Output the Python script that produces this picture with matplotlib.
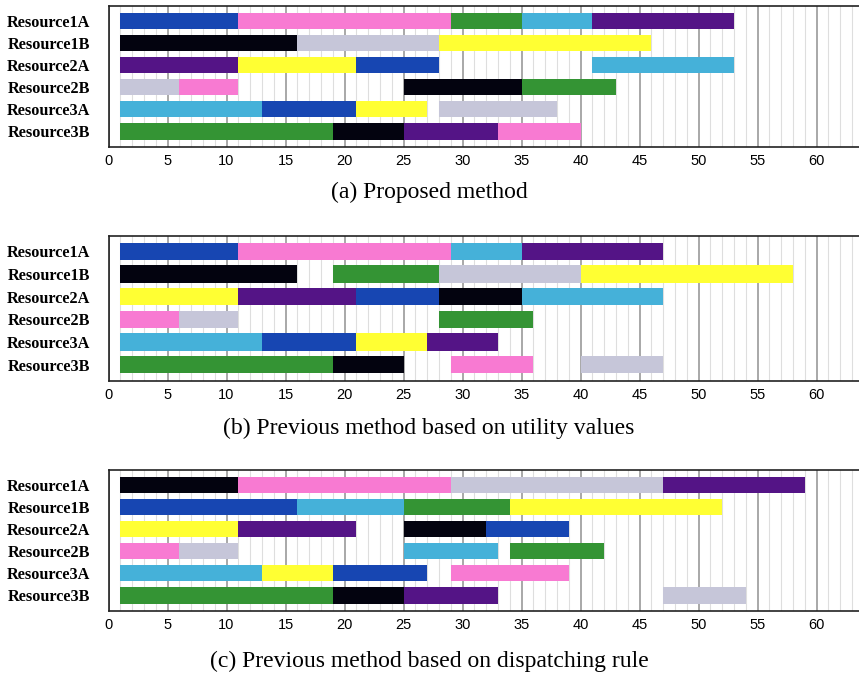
import matplotlib
matplotlib.use("Agg")
import matplotlib.pyplot as plt
from matplotlib.ticker import MultipleLocator

# Resources (rows, top to bottom)
resources = ["Resource1A", "Resource1B", "Resource2A", "Resource2B", "Resource3A", "Resource3B"]

# Job colours
job_colors = {
    "blue": "#1746b2",
    "pink": "#f87ad2",
    "green": "#349434",
    "cyan": "#45b1d9",
    "purple": "#541486",
    "black": "#03030f",
    "gray": "#c6c6d9",
    "yellow": "#ffff33",
}

# Schedules: per resource, list of (start, finish, job)
sched_proposed = [
    [(1, 11, "blue"), (11, 29, "pink"), (29, 35, "green"), (35, 41, "cyan"), (41, 53, "purple")],
    [(1, 16, "black"), (16, 28, "gray"), (28, 46, "yellow")],
    [(1, 11, "purple"), (11, 21, "yellow"), (21, 28, "blue"), (41, 53, "cyan")],
    [(1, 6, "gray"), (6, 11, "pink"), (25, 35, "black"), (35, 43, "green")],
    [(1, 13, "cyan"), (13, 21, "blue"), (21, 27, "yellow"), (28, 38, "gray")],
    [(1, 19, "green"), (19, 25, "black"), (25, 33, "purple"), (33, 40, "pink")],
]

sched_utility = [
    [(1, 11, "blue"), (11, 29, "pink"), (29, 35, "cyan"), (35, 47, "purple")],
    [(1, 16, "black"), (19, 28, "green"), (28, 40, "gray"), (40, 58, "yellow")],
    [(1, 11, "yellow"), (11, 21, "purple"), (21, 28, "blue"), (28, 35, "black"), (35, 47, "cyan")],
    [(1, 6, "pink"), (6, 11, "gray"), (28, 36, "green")],
    [(1, 13, "cyan"), (13, 21, "blue"), (21, 27, "yellow"), (27, 33, "purple")],
    [(1, 19, "green"), (19, 25, "black"), (29, 36, "pink"), (40, 47, "gray")],
]

sched_dispatch = [
    [(1, 11, "black"), (11, 29, "pink"), (29, 47, "gray"), (47, 59, "purple")],
    [(1, 16, "blue"), (16, 25, "cyan"), (25, 34, "green"), (34, 52, "yellow")],
    [(1, 11, "yellow"), (11, 21, "purple"), (25, 32, "black"), (32, 39, "blue")],
    [(1, 6, "pink"), (6, 11, "gray"), (25, 33, "cyan"), (34, 42, "green")],
    [(1, 13, "cyan"), (13, 19, "yellow"), (19, 27, "blue"), (29, 39, "pink")],
    [(1, 19, "green"), (19, 25, "black"), (25, 33, "purple"), (47, 54, "gray")],
]

captions = [
    "(a) Proposed method",
    "(b) Previous method based on utility values",
    "(c) Previous method based on dispatching rule",
]

W, H = 859, 678
fig = plt.figure(figsize=(W / 100, H / 100), dpi=100)

# panel boxes in pixels: (top, bottom)
panel_px = [(6, 147), (236, 381), (470, 611)]
caption_y = [192, 428, 661]
left_px, right_px = 108.5, 859

for sched, (top, bot), cap, cy in zip([sched_proposed, sched_utility, sched_dispatch],
                                      panel_px, captions, caption_y):
    ax = fig.add_axes([left_px / W, 1 - bot / H, (right_px - left_px) / W, (bot - top) / H])
    for row, tasks in enumerate(sched):
        for start, finish, job in tasks:
            ax.barh(row, finish - start, left=start, height=0.76,
                    color=job_colors[job], edgecolor="none", zorder=3)
    ax.set_xlim(0, 63.6)
    ax.set_ylim(5.72, -0.68)
    ax.set_yticks(range(len(resources)))
    ax.set_yticklabels(resources, fontfamily="Liberation Serif", fontweight="bold", fontsize=11.7)
    ax.xaxis.set_major_locator(MultipleLocator(5))
    ax.xaxis.set_minor_locator(MultipleLocator(1))
    ax.grid(which="minor", axis="x", color="#dedede", linewidth=0.8, zorder=1)
    ax.grid(which="major", axis="x", color="#a8a8a8", linewidth=1.4, zorder=2)
    ax.tick_params(axis="both", which="both", length=0)
    ax.tick_params(axis="x", pad=5)
    ax.tick_params(axis="y", pad=13)
    for lbl in ax.get_xticklabels():
        lbl.set_fontfamily("Liberation Sans")
        lbl.set_fontsize(10.5)
    for name in ("left", "top", "bottom"):
        ax.spines[name].set_linewidth(1.2)
        ax.spines[name].set_color("#222222")
    ax.spines["right"].set_visible(False)
    ax.set_axisbelow(True)
    fig.text(429 / W, 1 - cy / H, cap, ha="center", va="center",
             fontfamily="Liberation Serif", fontsize=17)

fig.savefig("out.png", dpi=100)
